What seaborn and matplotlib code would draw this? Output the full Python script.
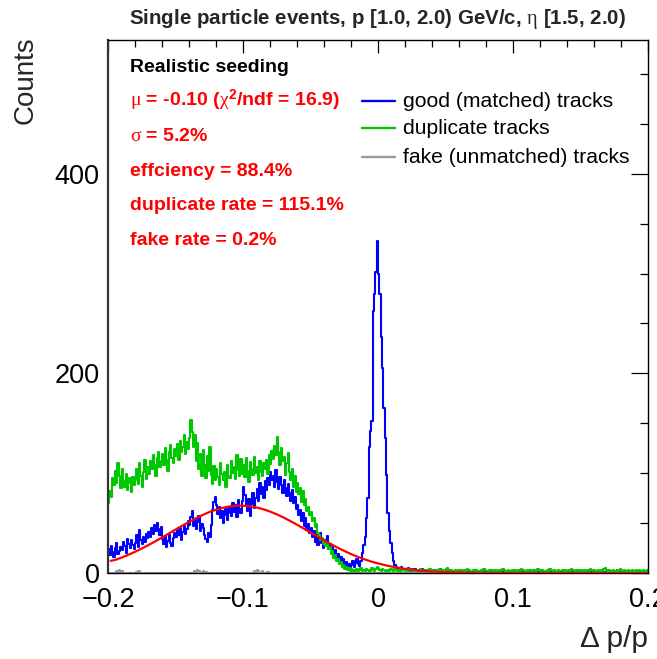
import numpy as np
import pandas as pd
import matplotlib
matplotlib.use("Agg")
import matplotlib.pyplot as plt
import seaborn as sns
from matplotlib.lines import Line2D
from matplotlib.ticker import MultipleLocator

# ---------------- data ----------------
x_range = (-0.2, 0.2)
n_bins = 400

good_counts = np.array("""
24 18 27 21 16 25 30 19 22 26  23 31 27 20 34 29 25 33 28 24
30 38 26 43 33 29 36 31 39 35  41 36 45 39 48 42 50 44 38 46
34 29 37 26 32 38 30 27 35 40  36 43 38 45 33 41 47 39 44 52
48 56 62 47 53 44 51 57 42 49  45 38 34 31 40 36 48 63 71 76
68 59 66 55 62 50 58 64 53 60  66 57 70 61 68 56 73 64 60 72
86 78 68 62 74 57 69 80 65 75  84 72 90 79 86 75 92 83 95 88
101 93 97 86 103 91 84 96 88 80  93 85 77 89 80 72 83 70 76 64
68 58 63 52 60 47 55 43 49 40  45 36 42 31 38 28 35 40 30 25
33 27 37 24 29 20 26 17 23 14  19 12 16 9 14 7 11 5 9 6
8 12 6 10 14 9 7 12 20 28  36 55 75 126 142 152 262 280 302 333
300 280 236 205 165 135 98 60 42 30  20 12 8 6 4 5 3 6 4 3
4 3 5 2 4 3 2 4 3 2  3 2 4 1 3 2 3 1 2 3
2 1 3 2 1 2 4 1 2 1  2 1 1 3 1 2 0 2 1 1
1 2 1 0 2 1 1 2 0 1  1 0 2 1 1 0 1 2 3 1
2 1 0 1 2 0 1 1 0 2  1 0 1 2 0 1 0 1 1 0
1 2 0 1 0 1 1 0 2 1  0 1 0 1 2 0 1 0 1 0
1 0 2 0 1 1 0 1 0 2  0 1 1 0 1 0 2 1 0 1
1 0 1 2 0 1 0 1 1 0  2 1 0 1 0 1 2 0 1 0
1 0 1 1 0 2 1 0 1 0  0 1 2 0 1 1 0 3 1 0
1 0 1 0 2 1 0 1 0 1  0 1 0 1 1 0 2 1 0 1
""".split(), dtype=float)

duplicate_counts = np.array("""
70 82 76 95 88 102 90 110 97 85  104 92 86 99 83 95 90 81 96 88
93 104 89 110 97 86 101 113 94 106  99 112 104 118 108 97 115 121 106 112
119 108 125 113 102 121 128 115 110 124  117 129 113 132 121 126 138 119 131 124
135 153 141 126 138 112 130 104 119 97  123 108 95 117 102 126 98 89 107 93
104 96 88 110 99 93 101 86 108 97  95 112 100 106 94 118 103 97 114 99
108 96 115 102 91 111 104 98 116 100  106 93 112 101 97 110 104 113 99 118
109 122 114 127 118 136 121 108 125 112  116 98 110 120 101 93 104 86 97 81
90 79 85 71 82 68 74 62 66 58  61 52 55 46 49 40 38 33 35 29
31 27 30 24 26 19 22 15 18 12  14 9 11 6 8 4 6 3 5 2
4 2 3 1 4 2 3 5 2 3  2 4 3 1 2 5 3 2 4 6
5 3 2 4 3 2 1 3 2 4  3 2 4 3 2 3 1 2 4 3
2 3 2 4 3 1 2 3 2 3  2 4 3 2 1 3 2 3 4 2
3 2 1 3 2 4 3 2 3 2  4 5 3 2 3 2 1 3 2 3
2 3 2 1 3 2 4 3 2 1  3 2 3 2 1 2 3 2 4 3
2 1 3 2 3 2 2 3 1 2  3 2 4 3 2 1 3 2 2 3
2 3 1 2 3 2 4 3 2 2  3 2 3 1 2 3 2 2 4 3
2 3 2 2 1 3 2 4 3 2  3 2 1 3 2 2 3 2 3 1
2 3 2 4 3 2 1 3 2 3  2 2 3 1 2 3 2 4 3 2
3 2 2 3 2 3 1 4 5 3  2 3 2 2 3 1 2 3 2 4
3 2 3 2 1 3 2 2 3 2  2 3 2 3 2 1 3 2 2 3
""".split(), dtype=float)

fake_bin_index = [6, 8, 10, 21, 22, 23, 64, 66, 67, 70, 72, 108, 110, 111, 114, 118]
fake_bin_counts = [2, 3, 2, 1, 2, 2, 2, 3, 2, 2, 1, 2, 3, 2, 2, 1]

fit_x = [-0.198, -0.195, -0.190, -0.185, -0.180, -0.175, -0.170, -0.165, -0.160, -0.155,
         -0.150, -0.145, -0.140, -0.135, -0.130, -0.125, -0.120, -0.115, -0.110, -0.105,
         -0.100, -0.095, -0.090, -0.085, -0.080, -0.075, -0.070, -0.065, -0.060, -0.055,
         -0.050, -0.045, -0.040, -0.035, -0.030, -0.025, -0.020, -0.015, -0.010, -0.005,
         0.000, 0.005, 0.010, 0.015, 0.020, 0.025, 0.030, 0.035, 0.040, 0.045,
         0.050, 0.060, 0.070, 0.080, 0.090, 0.100, 0.120, 0.150, 0.200]
fit_y = [12.2, 13.0, 15.4, 18.2, 21.2, 24.5, 28.0, 31.7, 35.6, 39.5,
         43.5, 47.4, 51.2, 54.8, 58.1, 61.0, 63.4, 65.3, 66.7, 67.4,
         67.4, 66.9, 65.7, 63.9, 61.6, 58.8, 55.6, 52.1, 48.4, 44.5,
         40.5, 36.6, 32.7, 29.0, 25.4, 22.1, 19.0, 16.2, 13.7, 11.5,
         9.6, 7.9, 6.5, 5.3, 4.2, 3.3, 2.6, 2.0, 1.5, 1.15,
         0.87, 0.47, 0.25, 0.13, 0.06, 0.03, 0.007, 0.0, 0.0]

series_labels = ["good (matched) tracks", "duplicate tracks", "fake (unmatched) tracks"]
xtick_values = [-0.2, -0.1, 0.0, 0.1, 0.2]
xtick_labels = ["\u22120.2", "\u22120.1", "0", "0.1", "0.2"]
ytick_values = [0, 200, 400]
ytick_labels = ["0", "200", "400"]

title_text = "Single particle events, p [1.0, 2.0) GeV/c, $\\eta$ [1.5, 2.0)"
info_head = "Realistic seeding"
info_lines = ["$\\mu$ = -0.10 ($\\chi^{2}$/ndf = 16.9)",
              "$\\sigma$ = 5.2%",
              "effciency = 88.4%",
              "duplicate rate = 115.1%",
              "fake rate = 0.2%"]

# ---------------- style ----------------
sns.set_theme(style="white")
plt.rcParams["font.family"] = ["Liberation Sans", "DejaVu Sans"]
plt.rcParams["mathtext.fontset"] = "custom"
plt.rcParams["mathtext.rm"] = "Liberation Sans:bold"
plt.rcParams["mathtext.bf"] = "Liberation Sans:bold"
plt.rcParams["mathtext.it"] = "Liberation Serif"
plt.rcParams["axes.unicode_minus"] = True

W, H = 657, 659
fig = plt.figure(figsize=(W / 100, H / 100), dpi=100)
fig.patch.set_facecolor("white")
L, R, T, B = 108, 648, 40, 573
ax = fig.add_axes([L / W, 1 - B / H, (R - L) / W, (B - T) / H])
ax.set_facecolor("white")

def fx(px):
    return px / W

def fy(py):
    return 1 - py / H

edges = list(np.linspace(x_range[0], x_range[1], n_bins + 1))
centers = 0.5 * (np.array(edges[:-1]) + np.array(edges[1:]))
fake_counts = np.zeros(n_bins)
fake_counts[fake_bin_index] = fake_bin_counts

colors = ["#0000ff", "#00c800", "#999999"]
for counts, col in zip([good_counts, duplicate_counts, fake_counts], colors):
    df = pd.DataFrame({"dpp": centers, "w": counts})
    sns.histplot(data=df, x="dpp", weights="w", bins=edges, element="step", fill=False,
                 color=col, linewidth=1.5, ax=ax)
fit_df = pd.DataFrame({"dpp": fit_x, "fit": fit_y})
sns.lineplot(data=fit_df, x="dpp", y="fit", color="#ff0000", linewidth=1.6, ax=ax,
             sort=False, estimator=None, zorder=5)

ax.set_xlim(*x_range)
ax.set_ylim(0, 534)
ax.set_xlabel("")
ax.set_ylabel("")

ax.set_xticks(xtick_values)
ax.set_xticklabels(xtick_labels)
ax.set_yticks(ytick_values)
ax.set_yticklabels(ytick_labels)
ax.xaxis.set_minor_locator(MultipleLocator(0.02))
ax.yaxis.set_minor_locator(MultipleLocator(50))
ax.tick_params(which="both", direction="in", top=True, right=True, colors="black",
               width=0.9, labelsize=19.5)
ax.tick_params(axis="x", which="major", length=9.5, pad=10)
ax.tick_params(axis="x", which="minor", length=5)
ax.tick_params(axis="y", which="major", length=12, pad=6)
ax.tick_params(axis="y", which="minor", length=6)
for s in ax.spines.values():
    s.set_color("black")
    s.set_linewidth(1.0)
ax.spines["left"].set_linewidth(1.6)
ax.spines["left"].set_color("#333333")

# axis labels
fig.text(fx(25.5), fy(36), "Counts", rotation=90, ha="center", va="top", fontsize=20)
fig.text(fx(648), fy(647), "\u0394 p/p", ha="right", va="baseline", fontsize=21.5)

# title
fig.text(fx(378), fy(24), title_text, ha="center", va="baseline", fontsize=14.8,
         fontweight="bold")

# info block
fig.text(fx(130), fy(71.5), info_head, ha="left", va="baseline", fontsize=14,
         fontweight="bold", color="black")
for k, line in enumerate(info_lines):
    fig.text(fx(130), fy(106.5 + 34.6 * k), line, ha="left", va="baseline",
             fontsize=14, fontweight="bold", color="#ff0000")

# legend (manual, no frame)
leg_line_y = [100.7, 128.3, 156.5]
for lab, col, ly in zip(series_labels, colors, leg_line_y):
    fig.add_artist(Line2D([fx(362), fx(395)], [fy(ly), fy(ly)], color=col, linewidth=1.7))
    fig.text(fx(403), fy(ly + 6), lab, ha="left", va="baseline", fontsize=15.2,
             color="black")

fig.savefig("out.png", dpi=100)
